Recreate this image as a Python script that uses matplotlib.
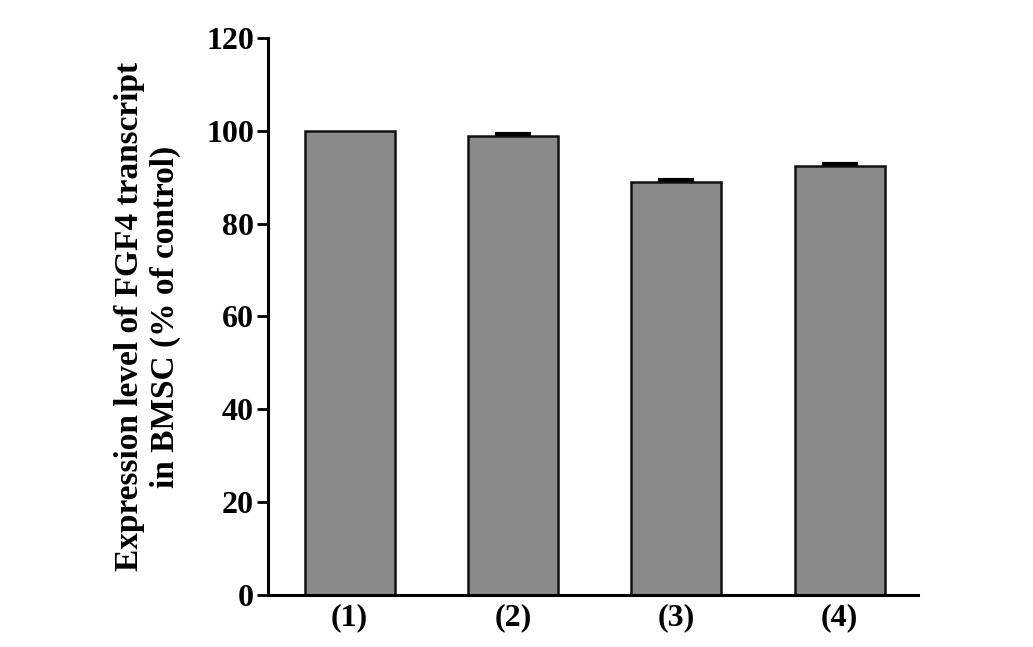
import numpy as np
import matplotlib.pyplot as plt

groups = ["(1)", "(2)", "(3)", "(4)"]
expression = [100.0, 98.9, 89.0, 92.5]
errors = [0.0, 0.4, 0.4, 0.4]

plt.rcParams.update({
    "font.family": "Liberation Serif",
    "font.weight": "bold",
    "font.size": 23,
})

fig = plt.figure(figsize=(10.33, 6.47), dpi=100)
ax = fig.add_axes([0.2594, 0.0804, 0.6293, 0.8609])

x = np.arange(1, len(groups) + 1)
ax.bar(x, expression, width=0.55, color="#8a8a8a", edgecolor="#111111",
       linewidth=1.8)
# small error caps on top of the bars
for xi, v, e in zip(x, expression, errors):
    if e > 0:
        ax.plot([xi - 0.11, xi + 0.11], [v + e, v + e], color="black",
                linewidth=3, solid_capstyle="butt")

ax.set_xlim(0.5, 4.48)
ax.set_ylim(0, 120)
ax.set_yticks(range(0, 121, 20))
ax.set_xticks(x)
ax.set_xticklabels(groups)

ax.spines["top"].set_visible(False)
ax.spines["right"].set_visible(False)
ax.spines["left"].set_linewidth(2.2)
ax.spines["bottom"].set_linewidth(2.2)
ax.tick_params(axis="y", direction="out", length=8, width=2, pad=2)
ax.tick_params(axis="x", length=0, pad=6)

ax.set_ylabel("Expression level of FGF4 transcript\nin BMSC (% of control)",
              fontsize=24, fontweight="bold", labelpad=18, linespacing=1.2)

fig.savefig("out.png", dpi=100)
